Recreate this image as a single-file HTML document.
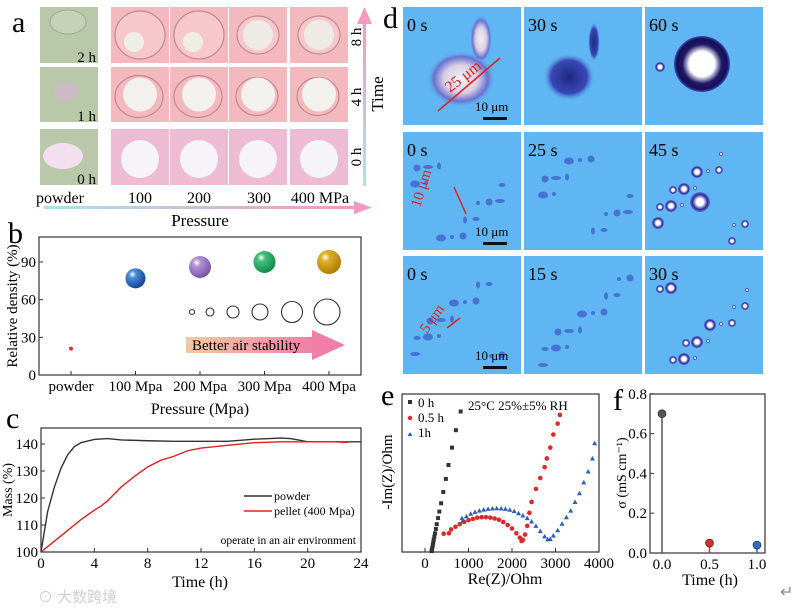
<!DOCTYPE html>
<html><head><meta charset="utf-8">
<style>
html,body{margin:0;padding:0;background:#fff;}
svg{display:block;font-family:"Liberation Serif","Noto Serif CJK SC",serif;}
</style></head>
<body>
<svg id="fig" width="805" height="610" viewBox="0 0 805 610" xmlns="http://www.w3.org/2000/svg">
<defs>
  <linearGradient id="hArrow" x1="0" x2="1" y1="0" y2="0"><stop offset="0" stop-color="#a8e4ee"/><stop offset="1" stop-color="#f29ac0"/></linearGradient>
  <linearGradient id="vArrow" x1="0" x2="0" y1="1" y2="0"><stop offset="0" stop-color="#a8e4ee"/><stop offset="1" stop-color="#f29ac0"/></linearGradient>
  <linearGradient id="stab" x1="0" x2="1"><stop offset="0" stop-color="#f3c9a0"/><stop offset="1" stop-color="#f07fa8"/></linearGradient>
  <radialGradient id="gBlue" cx="0.35" cy="0.3" r="0.7"><stop offset="0" stop-color="#fff"/><stop offset="0.25" stop-color="#4a8fd8"/><stop offset="1" stop-color="#14459a"/></radialGradient>
  <radialGradient id="gPurple" cx="0.35" cy="0.3" r="0.7"><stop offset="0" stop-color="#fff"/><stop offset="0.25" stop-color="#b793d8"/><stop offset="1" stop-color="#7a55a8"/></radialGradient>
  <radialGradient id="gGreen" cx="0.35" cy="0.3" r="0.7"><stop offset="0" stop-color="#fff"/><stop offset="0.25" stop-color="#45c07a"/><stop offset="1" stop-color="#138c4a"/></radialGradient>
  <radialGradient id="gGold" cx="0.35" cy="0.3" r="0.7"><stop offset="0" stop-color="#fff"/><stop offset="0.25" stop-color="#e0b030"/><stop offset="1" stop-color="#b07f00"/></radialGradient>
  <radialGradient id="bigDrop" cx="0.5" cy="0.5" r="0.5"><stop offset="0.45" stop-color="#fff"/><stop offset="0.7" stop-color="#20186a"/><stop offset="0.9" stop-color="#151050"/><stop offset="1" stop-color="#3a50c8"/></radialGradient>
  <radialGradient id="drop" cx="0.5" cy="0.5" r="0.5"><stop offset="0.35" stop-color="#fff"/><stop offset="0.75" stop-color="#2a2a9a"/><stop offset="1" stop-color="#5a7ae0"/></radialGradient>
  <radialGradient id="blob" cx="0.5" cy="0.5" r="0.5"><stop offset="0" stop-color="#1e2a80"/><stop offset="0.7" stop-color="#3a48b8"/><stop offset="1" stop-color="#5db6f2" stop-opacity="0"/></radialGradient>
  <radialGradient id="blob0" cx="0.5" cy="0.5" r="0.5"><stop offset="0" stop-color="#f4f0f0"/><stop offset="0.5" stop-color="#d8d0e4"/><stop offset="0.8" stop-color="#6a70d0"/><stop offset="1" stop-color="#5db6f2" stop-opacity="0"/></radialGradient>
</defs>

<!-- Panel a -->
<g>
  <text x="12" y="32" font-size="30">a</text>
  <g id="photosA"></g>
  <text x="60" y="203" font-size="16" text-anchor="middle">powder</text>
  <text x="140" y="203" font-size="16" text-anchor="middle">100</text>
  <text x="199" y="203" font-size="16" text-anchor="middle">200</text>
  <text x="259" y="203" font-size="16" text-anchor="middle">300</text>
  <text x="320" y="203" font-size="16" text-anchor="middle">400 MPa</text>
  <rect x="44" y="206" width="312" height="3" fill="url(#hArrow)"/>
  <polygon points="354,201 372,207.5 354,214" fill="#f29ac0"/>
  <text x="200" y="226" font-size="17" text-anchor="middle">Pressure</text>
  <rect x="363" y="22" width="3" height="164" fill="url(#vArrow)"/>
  <polygon points="357,24 364.5,7 372,24" fill="#f29ac0"/>
  <text transform="translate(361,37) rotate(-90)" font-size="15" text-anchor="middle">8 h</text>
  <text transform="translate(361,97) rotate(-90)" font-size="15" text-anchor="middle">4 h</text>
  <text transform="translate(361,157) rotate(-90)" font-size="15" text-anchor="middle">0 h</text>
  <text transform="translate(383,94) rotate(-90)" font-size="17" text-anchor="middle">Time</text>
</g>

<!-- Panel d -->
<g>
  <text x="383" y="28" font-size="30">d</text>
  <g id="photosD"></g>
</g>

<!-- Panel b -->
<g id="panelB">
  <text x="8" y="243" font-size="30">b</text>
  <rect x="39" y="237" width="322" height="138" fill="none" stroke="#333" stroke-width="1.2"/>
  <text transform="translate(17,306) rotate(-90)" font-size="15" text-anchor="middle">Relative density (%)</text>
  <text x="200" y="414" font-size="16" text-anchor="middle">Pressure (Mpa)</text>
  <rect x="186" y="337" width="128" height="16" fill="url(#stab)"/>
  <polygon points="312,330 345,345 312,360" fill="#f07fa8"/>
  <text x="192" y="350" font-size="15">Better air stability</text>
</g>

<!-- Panel c -->
<g id="panelC">
  <text x="6" y="428" font-size="30">c</text>
  <rect x="41" y="428" width="320" height="124" fill="none" stroke="#333" stroke-width="1.2"/>
  <text transform="translate(12,490) rotate(-90)" font-size="14" text-anchor="middle">Mass (%)</text>
  <text x="200" y="587" font-size="16" text-anchor="middle">Time (h)</text>
  <line x1="244" y1="496" x2="272" y2="496" stroke="#333" stroke-width="1.5"/>
  <text x="274" y="500" font-size="12">powder</text>
  <line x1="244" y1="511" x2="272" y2="511" stroke="#e02020" stroke-width="1.5"/>
  <text x="274" y="515" font-size="12">pellet (400 Mpa)</text>
  <text x="356" y="544" font-size="11.5" text-anchor="end">operate in an air environment</text>
</g>

<!-- Panel e -->
<g id="panelE">
  <text x="381" y="405" font-size="30">e</text>
  <rect x="402" y="394" width="197" height="158" fill="none" stroke="#333" stroke-width="1.2"/>
  <text transform="translate(392,472) rotate(-90)" font-size="15" text-anchor="middle">-Im(Z)/Ohm</text>
  <text x="505" y="584" font-size="16" text-anchor="middle">Re(Z)/Ohm</text>
  <text x="468" y="410" font-size="13">25°C 25%±5% RH</text>
  <rect x="408" y="400" width="4" height="4" fill="#333"/>
  <text x="418" y="407" font-size="13">0 h</text>
  <circle cx="410" cy="418" r="2.2" fill="#e02828"/>
  <text x="418" y="422" font-size="13">0.5 h</text>
  <polygon points="407.5,436 410,432 412.5,436" fill="#2a5fc0"/>
  <text x="418" y="437" font-size="13">1h</text>
</g>

<!-- Panel f -->
<g id="panelF">
  <text x="613" y="410" font-size="30">f</text>
  <rect x="650" y="394" width="115" height="159" fill="none" stroke="#333" stroke-width="1.2"/>
  <text transform="translate(626,473) rotate(-90)" font-size="14" text-anchor="middle">σ (mS cm⁻¹)</text>
  <text x="710" y="585" font-size="16" text-anchor="middle">Time (h)</text>
</g>

<text x="38" y="602" font-size="15" fill="#d0d0d0" font-family="Liberation Sans, Noto Sans CJK SC, sans-serif">⊙ 大数跨境</text>
<text x="780" y="597" font-size="16" fill="#888">↵</text>
</svg>

<script>
// ---------- chart data ----------
const bCategories = ["powder","100 Mpa","200 Mpa","300 Mpa","400 Mpa"];
const bDensity = [21, 77, 86, 90, 90];
const bYTicks = [0, 30, 60, 90];

const cTimePowder = [0,0.5,1,1.5,2,2.5,3,4,5,6,8,10,12,14,16,18,18.7,19.5,20,22,24];
const cMassPowder = [100,115,124,131,136,139,140.5,141.7,142,141.5,141.2,141,141,141,141.8,142.2,142,141.3,140.8,140.8,140.8];
const cTimePellet = [0,1,2,3,4,4.5,5,6,7,8,9,10,11,12,14,16,18,20,22,23];
const cMassPellet = [100,104,108,112,115.5,117,119,124,128,131.5,134,135.5,137.5,138.5,139.5,140.5,140.8,140.8,140.8,140.6];
const cXTicks = [0,4,8,12,16,20,24];
const cYTicks = [100,110,120,130,140];

const e0hRe = [150,160,170,180,190,200,215,230,250,270,300,330,370,420,480,540,620,710,820];
const e0hIm = [20,60,110,160,220,280,350,430,530,640,780,930,1120,1380,1680,2000,2400,2800,3230];
const e05Re = [430,550,600,700,800,900,1000,1100,1200,1300,1400,1500,1600,1700,1800,1900,2000,2100,2180,2220,2250,2300,2350,2400,2450,2550,2650,2750,2800,2880,2950,3050,3100];
const e05Im = [420,430,520,580,640,690,730,760,790,800,800,790,770,740,690,620,540,430,330,250,280,400,600,900,1150,1450,1700,1950,2150,2400,2700,2950,3150];
const e1Re = [850,870,950,1050,1150,1250,1350,1450,1550,1650,1750,1850,1950,2050,2150,2250,2350,2450,2550,2650,2750,2820,2880,2950,3050,3150,3250,3350,3450,3550,3650,3750,3850,3900];
const e1Im = [780,720,820,880,920,950,975,990,1000,1005,1000,990,970,940,890,840,780,700,600,480,360,290,300,380,500,650,800,950,1150,1350,1600,1850,2150,2500];
const eXTicks = [0,1000,2000,3000,4000];

const fTimes = [0.0, 0.5, 1.0];
const fSigma = [0.70, 0.05, 0.04];
const fColors = ["#555","#e02828","#2a6fc8"];
const fXTicks = [0.0, 0.5, 1.0];
const fYTicks = [0.0, 0.2, 0.4, 0.6, 0.8];

const NS = "http://www.w3.org/2000/svg";
function mk(tag, attrs, parent){ const el=document.createElementNS(NS,tag); for(const k in attrs) el.setAttribute(k, attrs[k]); parent.appendChild(el); return el; }
function txt(s, attrs, parent){ const t=mk("text",attrs,parent); t.textContent=s; return t; }

// ---------- panel a photos ----------
const pa = document.getElementById("photosA");
const rowsY = [7, 67, 129];
const rowH = [56, 55, 56];
const colX = [111, 170, 229, 290];
rowsY.forEach((y, r) => {
  const pc = mk("rect", {x:40,y:y,width:58,height:rowH[r],fill:"#b9c8a8"}, pa);
  
  
  colX.forEach((x, c) => {
    const cell = mk("rect", {x:x,y:y,width:58,height:rowH[r],fill: r===2?"#eebcd2":"#f3b9bf"}, pa);
    
    
    const cx=x+29, cy=y+rowH[r]/2;
    if (r===2) { mk("circle",{cx:cx,cy:cy+2,r:19,fill:"#f6f4f8"},pa); }
    else if (r===1) { mk("ellipse",{cx:cx-1,cy:cy+2,rx:c<2?24:21,ry:c<2?21:19,fill:"none",stroke:"#c08890","stroke-width":1.2},pa); mk("circle",{cx:cx,cy:cy,r:17,fill:"#f3f1ee"},pa); }
    else { mk("ellipse",{cx:cx,cy:cy,rx:c<2?25:21,ry:c<2?24:19,fill:"#f6c8cc",stroke:"#c08890","stroke-width":1.2},pa);
      if(c<2) mk("circle",{cx:cx-6,cy:cy+7,r:10,fill:"#eeeee6"},pa); else mk("circle",{cx:cx,cy:cy,r:15,fill:"#eeeae6"},pa); }
  });
});
mk("ellipse",{cx:68,cy:22,rx:18,ry:12,fill:"#c6d2b8",stroke:"#9aaa90"},pa);
mk("ellipse",{cx:66,cy:92,rx:12,ry:10,fill:"#c9bcc6"},pa);
mk("ellipse",{cx:63,cy:156,rx:20,ry:13,fill:"#f2e0ee"},pa);
[["2 h",62],["1 h",121],["0 h",184]].forEach(([s,y])=>{ txt(s,{x:96,y:y,"font-size":15,"text-anchor":"end"},pa); });

// ---------- panel d photos ----------
const pd = document.getElementById("photosD");
const dCols = [403, 524, 645], dRows = [7, 132, 256], dW = 118, dH = 118;
const dLabels = [["0 s","30 s","60 s"],["0 s","25 s","45 s"],["0 s","15 s","30 s"]];
dRows.forEach((y, r) => dCols.forEach((x, c) => {
  const cell = mk("rect",{x:x,y:y,width:dW,height:dH,fill:"#60b6f2"}, pd);
  
  
  if (r===0 && c===0) { mk("ellipse",{cx:x+58,cy:y+72,rx:34,ry:28,fill:"url(#blob0)"},pd); mk("ellipse",{cx:x+78,cy:y+32,rx:11,ry:24,fill:"url(#blob0)"},pd); }
  if (r===0 && c===1) { mk("ellipse",{cx:x+45,cy:y+70,rx:26,ry:24,fill:"url(#blob)"},pd); mk("ellipse",{cx:x+70,cy:y+35,rx:6,ry:20,fill:"url(#blob)"},pd); }
  if (r===0 && c===2) { mk("circle",{cx:x+57,cy:y+57,r:28,fill:"url(#bigDrop)"},pd); mk("circle",{cx:x+15,cy:y+60,r:5,fill:"url(#drop)"},pd); }
  if (r>0) {
    const n = 14;
    for (let i=0;i<n;i++){
      const px = x+10+((i*37+r*13+c*7)%98), py = y+22+((i*53+r*29+c*11)%88);
      if (c===2) mk("circle",{cx:px,cy:py,r:2+(i%3)*2,fill:"url(#drop)"},pd);
      else mk("ellipse",{cx:px,cy:py,rx:2+(i%3)*1.5,ry:2+(i%2)*1.5,fill:"#3a55c8",opacity:0.7},pd);
    }
    if (r===1 && c===2) mk("circle",{cx:x+55,cy:y+70,r:10,fill:"url(#drop)"},pd);
  }
  txt(dLabels[r][c],{x:x+4,y:y+24,"font-size":18},pd);
  if (c===0) { mk("rect",{x:x+80,y:y+110,width:24,height:3,fill:"#111"},pd); txt("10 μm",{x:x+72,y:y+104,"font-size":13},pd); }
}));
mk("line",{x1:438,y1:111,x2:500,y2:58,stroke:"#e02020","stroke-width":1.5},pd);
txt("25 μm",{transform:"translate(450,93) rotate(-38)","font-size":16,fill:"#e02020"},pd);
mk("line",{x1:454,y1:187,x2:466,y2:214,stroke:"#e02020","stroke-width":1.5},pd);
txt("10 μm",{transform:"translate(420,208) rotate(-73)","font-size":15,fill:"#e02020"},pd);
mk("line",{x1:447,y1:328,x2:460,y2:318,stroke:"#e02020","stroke-width":1.5},pd);
txt("5 μm",{transform:"translate(427,334) rotate(-55)","font-size":15,fill:"#e02020"},pd);

// ---------- panel b ----------
const gB = document.getElementById("panelB");
const bX0=39, bX1=361, bY0=375, bYtop=237;
const bx = i => 71 + i*64.5;
const by = v => bY0 - v*(113/90);
bYTicks.forEach(t=>{ mk("line",{x1:bX0,y1:by(t),x2:bX0+4,y2:by(t),stroke:"#333"},gB); txt(String(t),{x:bX0-3,y:by(t)+5,"font-size":15,"text-anchor":"end"},gB); });
bCategories.forEach((c,i)=>{ mk("line",{x1:bx(i),y1:bY0,x2:bx(i),y2:bY0-4,stroke:"#333"},gB); txt(c,{x:bx(i),y:391,"font-size":15,"text-anchor":"middle"},gB); });
const bFills = ["#e03030","url(#gBlue)","url(#gPurple)","url(#gGreen)","url(#gGold)"];
const bR = [2, 10, 11, 11, 12];
bDensity.forEach((v,i)=>{
  const p = mk("circle",{cx:bx(i),cy:by(v),r:bR[i],fill:bFills[i]},gB);
  
  
});
[[192,2.5],[210,4],[233,6],[260,8],[292,10.5],[327,13]].forEach(([x,r])=>mk("circle",{cx:x,cy:312,r:r,fill:"none",stroke:"#333","stroke-width":1.1},gB));

// ---------- panel c ----------
const gC = document.getElementById("panelC");
const cx = t => 41 + t*(320/24);
const cy = v => 552 - (v-100)*2.7;
cXTicks.forEach(t=>{ mk("line",{x1:cx(t),y1:552,x2:cx(t),y2:548,stroke:"#333"},gC); txt(String(t),{x:cx(t),y:568,"font-size":15,"text-anchor":"middle"},gC); });
cYTicks.forEach(t=>{ mk("line",{x1:41,y1:cy(t),x2:45,y2:cy(t),stroke:"#333"},gC); txt(String(t),{x:38,y:cy(t)+5,"font-size":15,"text-anchor":"end"},gC); });
const lineP = mk("polyline",{points:cTimePowder.map((t,i)=>cx(t)+","+cy(cMassPowder[i])).join(" "),fill:"none",stroke:"#333","stroke-width":1.4},gC);


const linePe = mk("polyline",{points:cTimePellet.map((t,i)=>cx(t)+","+cy(cMassPellet[i])).join(" "),fill:"none",stroke:"#e02020","stroke-width":1.4},gC);



// ---------- panel e ----------
const gE = document.getElementById("panelE");
const ex = v => 425 + v*0.0435;
const ey = v => 552 - v*0.0435;
eXTicks.forEach(t=>{ mk("line",{x1:ex(t),y1:552,x2:ex(t),y2:548,stroke:"#333"},gE); txt(String(t),{x:ex(t),y:568,"font-size":15,"text-anchor":"middle"},gE); });
e0hRe.forEach((r,i)=>{ const m=mk("rect",{x:ex(r)-2,y:ey(e0hIm[i])-2,width:4,height:4,fill:"#333"},gE);
  
   });
e05Re.forEach((r,i)=>{ const m=mk("circle",{cx:ex(r),cy:ey(e05Im[i]),r:2.3,fill:"#e02828"},gE);
  
   });
e1Re.forEach((r,i)=>{ const X=ex(r),Y=ey(e1Im[i]); const m=mk("polygon",{points:`${X-2.5},${Y+2} ${X},${Y-2.5} ${X+2.5},${Y+2}`,fill:"#2a5fc0"},gE);
  
   });

// ---------- panel f ----------
const gF = document.getElementById("panelF");
const fx = t => 662 + t*95;
const fy = v => 553 - v*199;
fXTicks.forEach(t=>{ mk("line",{x1:fx(t),y1:553,x2:fx(t),y2:549,stroke:"#333"},gF); txt(t.toFixed(1),{x:fx(t),y:569,"font-size":15,"text-anchor":"middle"},gF); });
fYTicks.forEach(t=>{ mk("line",{x1:650,y1:fy(t),x2:654,y2:fy(t),stroke:"#333"},gF); txt(t.toFixed(1),{x:647,y:fy(t)+5,"font-size":15,"text-anchor":"end"},gF); });
fTimes.forEach((t,i)=>{
  mk("line",{x1:fx(t),y1:553,x2:fx(t),y2:fy(fSigma[i]),stroke:fColors[i],"stroke-width":1.5},gF);
  const d = mk("circle",{cx:fx(t),cy:fy(fSigma[i]),r:4,fill:fColors[i],stroke:"#222","stroke-width":0.6},gF);
  
  
});
</script>
</body></html>
